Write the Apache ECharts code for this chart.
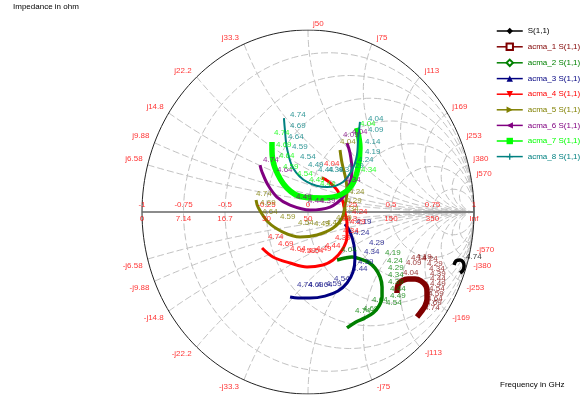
<!DOCTYPE html>
<html>
<head>
<meta charset="utf-8">
<script src="https://cdn.jsdelivr.net/npm/echarts/dist/echarts.min.js"></script>
<style>
  html, body { margin: 0; padding: 0; background: #fff; }
  #main { width: 583px; height: 398px; }
</style>
</head>
<body>
<div id="main"></div>
<script>
const Z0 = 50;
const FONT = 'Liberation Sans, Arial, sans-serif';

// real axis ticks (reflection coefficient and matching impedance)
const gammaTicks = [-1, -0.75, -0.5, -0.25, 0, 0.25, 0.5, 0.75, 1];
const gammaText = ['-1', '-0.75', '-0.5', '-0.25', '0', '0.25', '0.5', '0.75', '1'];
const ohmText = ['0', '7.14', '16.7', '30', '50', '83.3', '150', '350', 'Inf'];
// reactance labels round the rim (ohm)
const reactTicks = ['6.58', '9.88', '14.8', '22.2', '33.3', '50', '75', '113', '169', '253', '380', '570'];

const names = ['S(1,1)', 'acma_1 S(1,1)', 'acma_2 S(1,1)', 'acma_3 S(1,1)', 'acma_4 S(1,1)',
  'acma_5 S(1,1)', 'acma_6 S(1,1)', 'acma_7 S(1,1)', 'acma_8 S(1,1)'];
const colors = ['#000000', '#800000', '#008000', '#000080', '#ff0000', '#808000', '#800080', '#00ff00', '#008080'];

// S11 traces, [re, im] of the reflection coefficient
const s11 = [[0.880, -0.291], [0.892, -0.269], [0.916, -0.264], [0.934, -0.275], [0.940, -0.297], [0.934, -0.319], [0.916, -0.335]];
const acma1 = [[0.536, -0.445], [0.542, -0.401], [0.566, -0.379], [0.602, -0.368], [0.645, -0.368], [0.681, -0.379],
  [0.711, -0.407], [0.717, -0.440], [0.717, -0.478], [0.705, -0.516], [0.681, -0.549], [0.657, -0.577]];
const acma2 = [[0.175, -0.264], [0.223, -0.253], [0.265, -0.247], [0.313, -0.258], [0.361, -0.275], [0.404, -0.308],
  [0.434, -0.357], [0.446, -0.412], [0.446, -0.467], [0.428, -0.516], [0.392, -0.555], [0.343, -0.582], [0.289, -0.604], [0.235, -0.637]];
const acma3 = [[0.223, -0.066], [0.253, -0.110], [0.277, -0.181], [0.283, -0.253], [0.271, -0.330], [0.235, -0.390],
  [0.181, -0.434], [0.102, -0.462], [0.012, -0.473], [-0.060, -0.473], [-0.108, -0.467]];
const acma4 = [[0.084, 0.187], [0.120, 0.170], [0.175, 0.121], [0.211, 0.055], [0.223, -0.005], [0.235, -0.060],
  [0.235, -0.137], [0.205, -0.209], [0.151, -0.264], [0.090, -0.291], [-0.006, -0.302], [-0.108, -0.280], [-0.211, -0.247], [-0.277, -0.198]];
const acma5 = [[0.193, 0.341], [0.205, 0.269], [0.229, 0.176], [0.235, 0.110], [0.223, 0.038], [0.205, -0.033],
  [0.151, -0.088], [0.054, -0.126], [-0.048, -0.137], [-0.151, -0.110], [-0.241, -0.055], [-0.301, 0.027], [-0.313, 0.066]];
const acma6 = [[0.235, 0.379], [0.253, 0.324], [0.265, 0.231], [0.253, 0.159], [0.211, 0.082], [0.133, 0.027],
  [0.012, 0.011], [-0.108, 0.038], [-0.187, 0.082], [-0.241, 0.148], [-0.277, 0.220], [-0.289, 0.258]];
const acma7 = [[0.295, 0.462], [0.313, 0.352], [0.301, 0.242], [0.265, 0.148], [0.193, 0.093], [0.090, 0.077],
  [-0.030, 0.082], [-0.127, 0.132], [-0.199, 0.242], [-0.217, 0.341], [-0.217, 0.385]];
const acma8 = [[0.313, 0.495], [0.301, 0.385], [0.295, 0.313], [0.271, 0.242], [0.211, 0.165], [0.114, 0.137],
  [-0.006, 0.165], [-0.090, 0.242], [-0.127, 0.352], [-0.139, 0.451], [-0.145, 0.516]];

// frequency markers (GHz), [re, im, text]
const s11Freq = [[0.952, -0.247, '4.74']];
const acma1Freq = [[0.572, -0.335, '4.04'], [0.590, -0.280, '4.09'], [0.620, -0.253, '4.14'], [0.651, -0.247, '4.19'],
  [0.687, -0.258, '4.24'], [0.717, -0.286, '4.29'], [0.729, -0.313, '4.34'], [0.735, -0.341, '4.39'], [0.735, -0.368, '4.44'],
  [0.735, -0.396, '4.49'], [0.729, -0.423, '4.54'], [0.723, -0.451, '4.59'], [0.717, -0.478, '4.64'], [0.711, -0.500, '4.69'], [0.699, -0.527, '4.74']];
const acma2Freq = [[0.199, -0.209, '4.04'], [0.464, -0.225, '4.19'], [0.476, -0.269, '4.24'], [0.482, -0.308, '4.29'],
  [0.482, -0.346, '4.34'], [0.482, -0.385, '4.39'], [0.494, -0.423, '4.44'], [0.494, -0.462, '4.49'], [0.470, -0.500, '4.54'],
  [0.386, -0.484, '4.64'], [0.331, -0.533, '4.69'], [0.283, -0.544, '4.74']];
const acma3Freq = [[0.289, -0.055, '4.19'], [0.277, -0.115, '4.24'], [0.367, -0.170, '4.29'], [0.337, -0.220, '4.34'],
  [0.301, -0.275, '4.39'], [0.265, -0.313, '4.44'], [0.157, -0.368, '4.54'], [0.108, -0.396, '4.59'], [0.054, -0.401, '4.64'],
  [0.000, -0.401, '4.69'], [-0.066, -0.401, '4.74']];
const acma4Freq = [[0.096, 0.264, '4.04'], [0.265, 0.000, '4.24'], [0.253, -0.055, '4.29'], [0.211, -0.104, '4.34'],
  [0.163, -0.143, '4.39'], [0.102, -0.187, '4.44'], [0.048, -0.203, '4.49'], [0.000, -0.214, '4.54'], [-0.048, -0.214, '4.59'],
  [-0.108, -0.203, '4.64'], [-0.181, -0.176, '4.69'], [-0.241, -0.137, '4.74']];
const acma5Freq = [[0.193, 0.385, '4.04'], [0.247, 0.110, '4.24'], [0.229, 0.060, '4.29'], [0.211, 0.016, '4.34'],
  [0.169, -0.033, '4.39'], [0.108, -0.060, '4.44'], [0.036, -0.066, '4.49'], [-0.060, -0.060, '4.54'], [-0.169, -0.027, '4.59'],
  [-0.277, 0.000, '4.64'], [-0.289, 0.049, '4.69'], [-0.313, 0.099, '4.74']];
const acma6Freq = [[0.265, 0.440, '4.04'], [0.211, 0.423, '4.09'], [0.223, 0.176, '4.34'], [0.072, 0.060, '4.39'],
  [0.000, 0.060, '4.44'], [-0.072, 0.082, '4.49'], [-0.187, 0.231, '4.64'], [-0.271, 0.286, '4.74']];
const acma7Freq = [[0.313, 0.484, '4.04'], [0.319, 0.231, '4.34'], [0.072, 0.154, '4.44'], [0.006, 0.176, '4.49'],
  [-0.066, 0.209, '4.54'], [-0.151, 0.247, '4.59'], [-0.175, 0.308, '4.64'], [-0.193, 0.368, '4.69'], [-0.205, 0.434, '4.74']];
const acma8Freq = [[0.361, 0.511, '4.04'], [0.361, 0.451, '4.09'], [0.343, 0.385, '4.14'], [0.343, 0.330, '4.19'],
  [0.301, 0.286, '4.24'], [0.241, 0.253, '4.29'], [0.181, 0.231, '4.34'], [0.120, 0.231, '4.39'], [0.060, 0.231, '4.44'],
  [0.000, 0.258, '4.49'], [-0.048, 0.302, '4.54'], [-0.096, 0.357, '4.59'], [-0.120, 0.412, '4.64'], [-0.108, 0.473, '4.69'], [-0.108, 0.533, '4.74']];

const traces = [s11, acma1, acma2, acma3, acma4, acma5, acma6, acma7, acma8];
const freqs = [s11Freq, acma1Freq, acma2Freq, acma3Freq, acma4Freq, acma5Freq, acma6Freq, acma7Freq, acma8Freq];
const symbols = ['diamond', 'emptyRect', 'emptyDiamond', 'triangle', 'triangle', 'triangle', 'triangle', 'rect',
  'path://M4,0h2v4h4v2h-4v4h-2v-4h-4v-2h4z'];
const rotates = [0, 0, 0, 0, 180, -90, 90, 0, 0];
const widths = [3.5, 5.5, 3.5, 3, 3, 3, 3, 5.5, 2];

// smith chart furniture
function rCircle(r) {
  const c = r / (1 + r), R = 1 / (1 + r), pts = [];
  for (let i = 0; i <= 180; i++) {
    const t = i / 180 * 2 * Math.PI;
    pts.push([c + R * Math.cos(t), R * Math.sin(t)]);
  }
  return pts;
}
function xArc(x) {
  const pts = [];
  for (let i = 0; i < 200; i++) {
    const t = i / 200, r = t / (1 - t), d = (r + 1) * (r + 1) + x * x;
    pts.push([(r * r + x * x - 1) / d, 2 * x / d]);
  }
  pts.push([1, 0]);
  return pts;
}
function curve(pts, ls, z) {
  return { type: 'line', data: pts, symbol: 'none', showSymbol: false, silent: true, lineStyle: ls, z: z || 1, animation: false };
}

const gridStyle = { color: '#c2c2c2', width: 1, type: [7, 3] };
const series = [];
gammaTicks.slice(1, -1).forEach(g => series.push(curve(rCircle((1 + g) / (1 - g)), gridStyle)));
reactTicks.forEach(v => {
  series.push(curve(xArc(v / Z0), gridStyle));
  series.push(curve(xArc(-v / Z0), gridStyle));
});
series.push(curve(rCircle(0), { color: '#222', width: 1 }, 2));
series.push(curve([[-1, 0], [1, 0]], { color: '#666', width: 1.5 }, 2));

const lbl = { show: true, position: 'inside', color: '#ff0000', fontSize: 8, fontFamily: FONT, formatter: '{b}' };
function labels(data, label) {
  return { type: 'scatter', data: data, symbolSize: 1, clip: false, silent: true, animation: false,
    itemStyle: { color: 'rgba(0,0,0,0)' }, label: label, z: 5 };
}
series.push(labels(gammaTicks.map((g, i) => ({ value: [g, 0], name: gammaText[i] })), Object.assign({}, lbl, { offset: [0, -7] })));
series.push(labels(gammaTicks.map((g, i) => ({ value: [g, 0], name: ohmText[i] })), Object.assign({}, lbl, { offset: [0, 7] })));

const reactData = [];
reactTicks.forEach(v => {
  [1, -1].forEach(s => {
    const x = s * v / Z0, d = x * x + 1;
    const re = (x * x - 1) / d, im = 2 * x / d;
    const right = re > -0.1;
    reactData.push({ value: [re, im], name: (s < 0 ? '-j' : 'j') + v,
      label: { align: right ? 'left' : 'right', offset: [right ? 5 : -5, s > 0 ? -6.5 : 6.5] } });
  });
});
series.push(labels(reactData, Object.assign({}, lbl, { verticalAlign: 'middle' })));

names.forEach((n, i) => {
  series.push({
    type: 'line', name: n, data: traces[i], smooth: 0.35, showSymbol: false,
    symbol: symbols[i], symbolRotate: rotates[i], symbolSize: 5,
    lineStyle: { color: colors[i], width: widths[i] }, itemStyle: { color: colors[i] },
    z: 3, animation: false
  });
});
names.forEach((n, i) => {
  series.push(labels(freqs[i].map(p => ({ value: [p[0], p[1]], name: p[2] })),
    Object.assign({}, lbl, { color: colors[i], align: 'left', verticalAlign: 'middle' })));
});

const chart = echarts.init(document.getElementById('main'));
chart.setOption({
  backgroundColor: '#fff',
  animation: false,
  title: [
    { text: 'Impedance in ohm', left: 13, top: 3, padding: 0,
      textStyle: { fontSize: 8, fontWeight: 'normal', color: '#000', fontFamily: FONT } },
    { text: 'Frequency in GHz', left: 500, top: 381, padding: 0,
      textStyle: { fontSize: 8, fontWeight: 'normal', color: '#000', fontFamily: FONT } }
  ],
  legend: {
    orient: 'vertical', left: 496, top: 27, padding: 0,
    itemWidth: 26, itemHeight: 8, itemGap: 7.6,
    lineStyle: { width: 1.5 },
    textStyle: { fontSize: 8, lineHeight: 8, fontFamily: FONT },
    data: names.map((n, i) => ({ name: n, textStyle: { color: colors[i] } })),
    selectedMode: false
  },
  grid: { left: 142, top: 30, width: 332, height: 364 },
  xAxis: { type: 'value', min: -1, max: 1, show: false },
  yAxis: { type: 'value', min: -1, max: 1, show: false },
  series: series
});
</script>
</body>
</html>
